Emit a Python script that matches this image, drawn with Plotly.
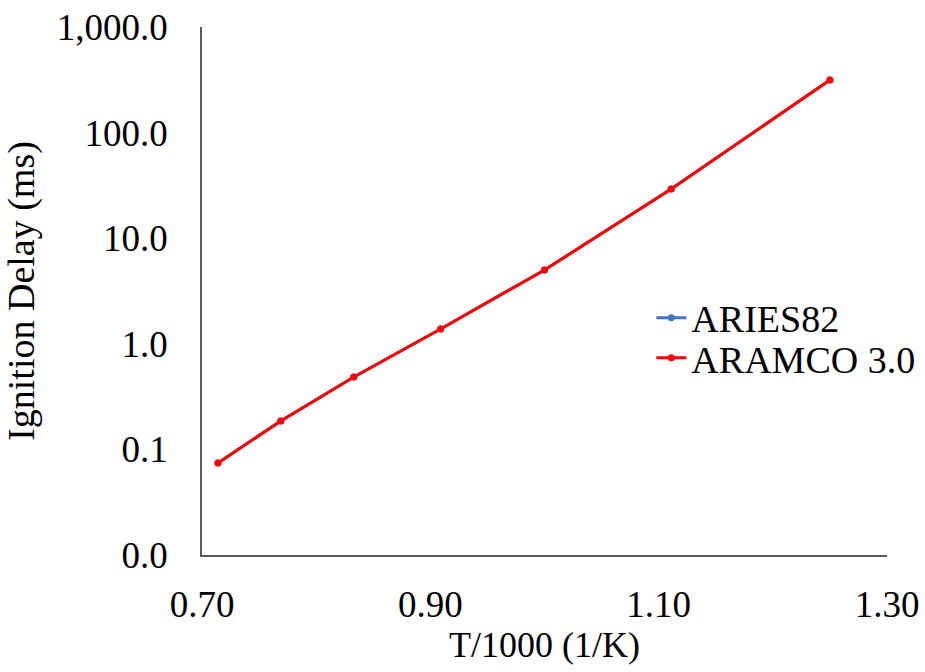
import plotly.graph_objects as go

# Inverse temperature (1000/T) and ignition delay times (ms)
inv_temp = [0.714, 0.769, 0.833, 0.909, 1.000, 1.111, 1.250]
delay_aries82 = [0.0743, 0.186, 0.485, 1.38, 5.0, 29.2, 315.0]
delay_aramco = [0.0743, 0.186, 0.485, 1.38, 5.0, 29.2, 315.0]

y_ticks = [0.01, 0.1, 1, 10, 100, 1000]
x_ticks = [0.70, 0.90, 1.10, 1.30]

FONT = "Liberation Serif, Times New Roman, serif"

fig = go.Figure()
fig.add_trace(go.Scatter(
    x=inv_temp, y=delay_aries82, name="ARIES82", mode="lines+markers",
    line=dict(color="#4472C4", width=3), marker=dict(size=7, color="#4472C4"),
    legend="legend", showlegend=True,
))
fig.add_trace(go.Scatter(
    x=inv_temp, y=delay_aramco, name="ARAMCO 3.0", mode="lines+markers",
    line=dict(color="#FF0000", width=3), marker=dict(size=7, color="#FF0000"),
    legend="legend2", showlegend=True,
))

legend_common = dict(
    font=dict(family=FONT, size=38, color="black"),
    bgcolor="rgba(0,0,0,0)", borderwidth=0,
    xanchor="left", yanchor="middle", itemwidth=30,
)

fig.update_layout(
    width=925, height=672,
    showlegend=True,
    margin=dict(l=202, r=38, t=27, b=117, autoexpand=False),
    paper_bgcolor="white", plot_bgcolor="white",
    font=dict(family=FONT, size=37, color="black"),
    legend=dict(x=0.656, y=0.449, **legend_common),
    legend2=dict(x=0.656, y=0.373, **legend_common),
    xaxis=dict(
        range=[0.70, 1.30], tickvals=x_ticks, tickformat=".2f",
        showgrid=False, zeroline=False, showline=True,
        linecolor="#595959", linewidth=1.5, ticks="",
        ticklabelstandoff=16,
        tickfont=dict(family=FONT, size=37, color="black"),
        title=dict(text="T/1000 (1/K)", standoff=6,
                   font=dict(family=FONT, size=36, color="black")),
    ),
    yaxis=dict(
        type="log", range=[-2, 3], tickvals=y_ticks, tickformat=",.1f",
        showgrid=False, zeroline=False, showline=True,
        linecolor="#595959", linewidth=1.5, ticks="",
        ticklabelstandoff=25,
        tickfont=dict(family=FONT, size=37, color="black"),
        title=dict(text="Ignition Delay (ms)", standoff=12,
                   font=dict(family=FONT, size=38, color="black")),
    ),
)

fig.write_html("out.html")
